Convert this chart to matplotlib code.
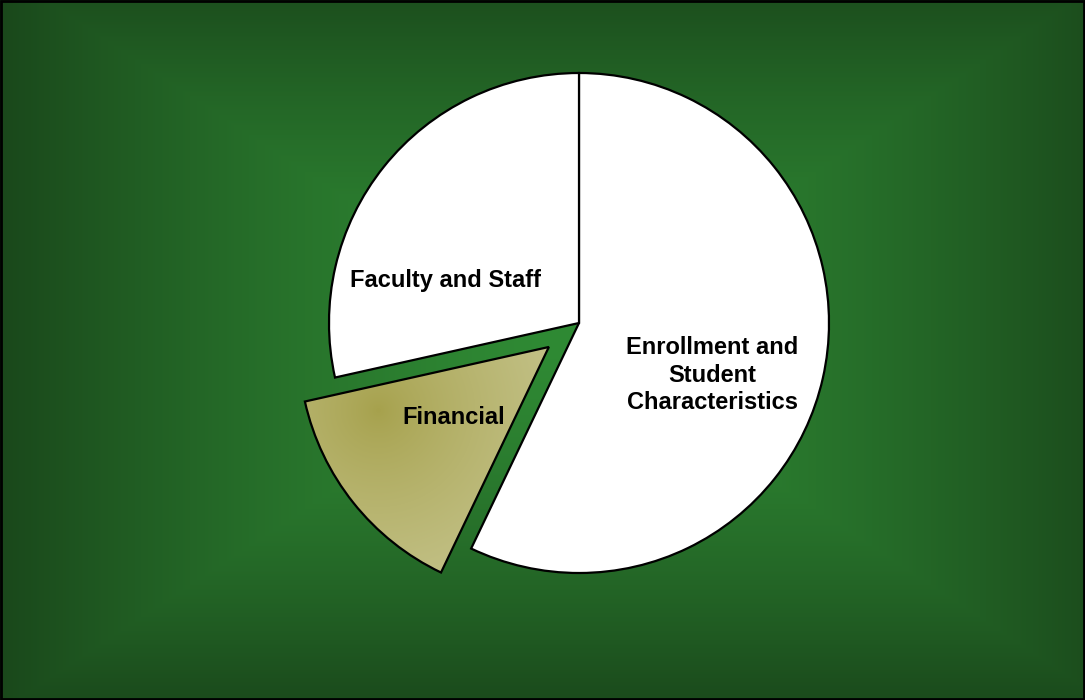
import numpy as np
import matplotlib.pyplot as plt
from matplotlib.patches import Rectangle

# Datos del grafico (porcentajes)
categorias = ['Enrollment and\nStudent\nCharacteristics', 'Financial', 'Faculty and Staff']
valores = [57.1, 14.4, 28.5]
separacion = [0, 0.154, 0]   # fraccion del radio
colores = ['white', '#b5b36a', 'white']

W, H = 1085, 700
centro = (579, 377)
radio = 250

fig = plt.figure(figsize=(W / 100, H / 100), dpi=100)
ax = fig.add_axes([0, 0, 1, 1])

# Fondo verde con degradado rectangular desde el centro
yy, xx = np.mgrid[0:H, 0:W]
t = np.maximum(np.abs(xx - 560) / 560, np.abs(yy - 340) / 370)
t = np.clip(t, 0, 1) ** 1.4
c_centro = np.array([0x2f, 0x8a, 0x34]) / 255
c_borde = np.array([0x1a, 0x48, 0x1b]) / 255
fondo = c_centro + (c_borde - c_centro) * t[..., None]
ax.imshow(fondo, extent=[0, W, 0, H], origin='upper', zorder=0, aspect='auto')

# Pastel (explode de matplotlib va en unidades de datos)
wedges, _ = ax.pie(valores, explode=[s * radio for s in separacion], colors=colores,
                   startangle=90, counterclock=False, center=centro, radius=radio,
                   wedgeprops=dict(edgecolor='black', linewidth=1.6))
for w in wedges:
    w.set_zorder(3)

# Degradado de la rebanada Financial
wedges[1].set_facecolor('none')
d = np.hypot(xx - 378, yy - 410) / 230
d = np.clip(d, 0, 1) ** 0.8
c_osc = np.array([0xa6, 0xa1, 0x4c]) / 255
c_cla = np.array([0xc8, 0xc7, 0x92]) / 255
grad = c_osc + (c_cla - c_osc) * d[..., None]
im = ax.imshow(grad, extent=[0, W, 0, H], origin='upper', zorder=2, aspect='auto')
im.set_clip_path(wedges[1])

# Etiquetas
fuente = dict(fontsize=17, fontweight='bold', family='Liberation Sans', ha='center', va='center', zorder=4)
ax.text(centro[0] + 133, centro[1] - 52, categorias[0], linespacing=1.27, **fuente)
ax.text(centro[0] - 125, centro[1] - 95, categorias[1], **fuente)
ax.text(centro[0] - 133, centro[1] + 42, categorias[2], **fuente)

ax.set_xlim(0, W)
ax.set_ylim(0, H)
ax.set_aspect('auto')
ax.axis('off')

# marco negro
ax.add_patch(Rectangle((1, 1), W - 2, H - 2, fill=False, edgecolor='black', linewidth=2, zorder=5))

fig.savefig('out.png', dpi=100)
